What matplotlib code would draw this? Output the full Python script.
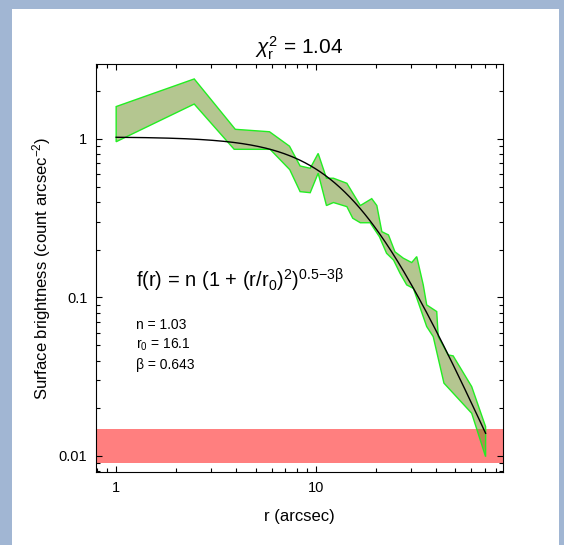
import numpy as np
import matplotlib
matplotlib.use("Agg")
import matplotlib.pyplot as plt
from matplotlib.patches import Rectangle
from matplotlib.ticker import FuncFormatter, LogLocator

plt.rcParams['font.family'] = ['Liberation Sans', 'DejaVu Sans']
plt.rcParams['mathtext.fontset'] = 'custom'
plt.rcParams['mathtext.rm'] = 'Liberation Sans'
plt.rcParams['mathtext.it'] = 'Liberation Sans:italic'
plt.rcParams['mathtext.bf'] = 'Liberation Sans:bold'

# profile band (upper / lower edge)
upper_r = [1.0, 2.46, 3.95, 5.86, 7.38, 8.34, 9.37, 10.27, 11.3, 12.25, 14.3, 16.7, 19.05,
           20.2, 21.4, 23.1, 24.9, 27.4, 30.2, 32.0, 34.5, 35.9, 40.3, 41.0, 46.0, 48.7, 60.3, 70.8]
upper_v = [1.60, 2.39, 1.15, 1.11, 0.90, 0.675, 0.653, 0.81, 0.565, 0.565, 0.525, 0.38, 0.42,
           0.38, 0.26, 0.248, 0.194, 0.177, 0.166, 0.181, 0.12, 0.0897, 0.0815, 0.0566, 0.0434,
           0.0428, 0.0274, 0.0153]
lower_r = [1.0, 2.46, 3.9, 5.9, 7.4, 8.34, 9.37, 10.27, 11.3, 12.25, 14.3, 15.3, 16.7, 18.7,
           20.8, 22.6, 24.5, 26.4, 28.5, 30.8, 35.9, 38.7, 43.8, 60.3, 70.8]
lower_v = [0.96, 1.66, 0.86, 0.86, 0.64, 0.465, 0.458, 0.608, 0.38, 0.397, 0.374, 0.316, 0.296,
           0.296, 0.242, 0.19, 0.172, 0.142, 0.12, 0.114, 0.0655, 0.0566, 0.0288, 0.0186, 0.0099]

# background level band
bkg_lo, bkg_hi = 0.009, 0.0148

# beta model parameters
n0 = 1.03
r0 = 16.1
beta = 0.643
chi2 = 1.04

fig = plt.figure(figsize=(5.64, 5.45), dpi=100, facecolor='#a1b6d3')
bg = Rectangle((12 / 564, 0), (559 - 12) / 564, (545 - 9) / 545,
               transform=fig.transFigure, facecolor='white', edgecolor='none', zorder=-10)
fig.add_artist(bg)
ax = fig.add_axes([0.1697, 0.1345, 0.7221, 0.7481])
ax.set_facecolor('none')

ax.axhspan(bkg_lo, bkg_hi, color='red', alpha=0.5, lw=0, zorder=1)

poly_r = upper_r + lower_r[::-1]
poly_v = upper_v + lower_v[::-1]
ax.fill(poly_r, poly_v, facecolor='olivedrab', alpha=0.5, edgecolor='none', zorder=2)
ax.fill(poly_r, poly_v, facecolor='none', edgecolor='#22ee22', lw=1.0, zorder=3)

# fitted beta model over the profile range
rm = np.geomspace(min(upper_r), max(upper_r), 300)
model = n0 * (1 + (rm / r0) ** 2) ** (0.5 - 3 * beta)
ax.plot(rm, model, color='black', lw=1.0, zorder=4)

ax.set_xscale('log')
ax.set_yscale('log')
ax.set_xlim(0.79, 86.5)
ax.set_ylim(0.00796, 2.97)
fmt = FuncFormatter(lambda v, p: '%g' % v)
ax.xaxis.set_major_formatter(fmt)
ax.yaxis.set_major_formatter(fmt)
ax.xaxis.set_minor_locator(LogLocator(base=10, subs=np.arange(2, 10)))
ax.yaxis.set_minor_locator(LogLocator(base=10, subs=np.arange(2, 10)))
ax.xaxis.set_minor_formatter(plt.NullFormatter())
ax.yaxis.set_minor_formatter(plt.NullFormatter())
ax.tick_params(which='both', direction='in', top=True, right=True, labelsize=10.5)
ax.tick_params(which='major', length=4.5, width=0.8)
ax.tick_params(which='minor', length=3, width=0.8)
ax.tick_params(axis='x', pad=7)
ax.tick_params(axis='y', pad=6)

ax.set_title(r'$\chi_{\mathrm{r}}^{2}$ = 1.04', fontsize=15, pad=7)
ax.set_xlabel('r (arcsec)', fontsize=12, labelpad=10)
ax.set_ylabel(r'Surface brightness (count arcsec$^{-2}$)', fontsize=12, labelpad=4)

ax.text(0.1, 0.453, r'f(r) = n (1 + (r/r$_0$)$^2$)$^{0.5{-}3\mathrm{\beta}}$', transform=ax.transAxes,
        fontsize=14.5)
ax.text(0.1, 0.35, 'n = %.2f' % n0, transform=ax.transAxes, fontsize=10)
ax.text(0.1, 0.301, 'r$_0$ = %.1f' % r0, transform=ax.transAxes, fontsize=10)
ax.text(0.1, 0.252, 'β = %.3f' % beta, transform=ax.transAxes, fontsize=10)

fig.savefig('out.png', dpi=100, facecolor=fig.get_facecolor())
